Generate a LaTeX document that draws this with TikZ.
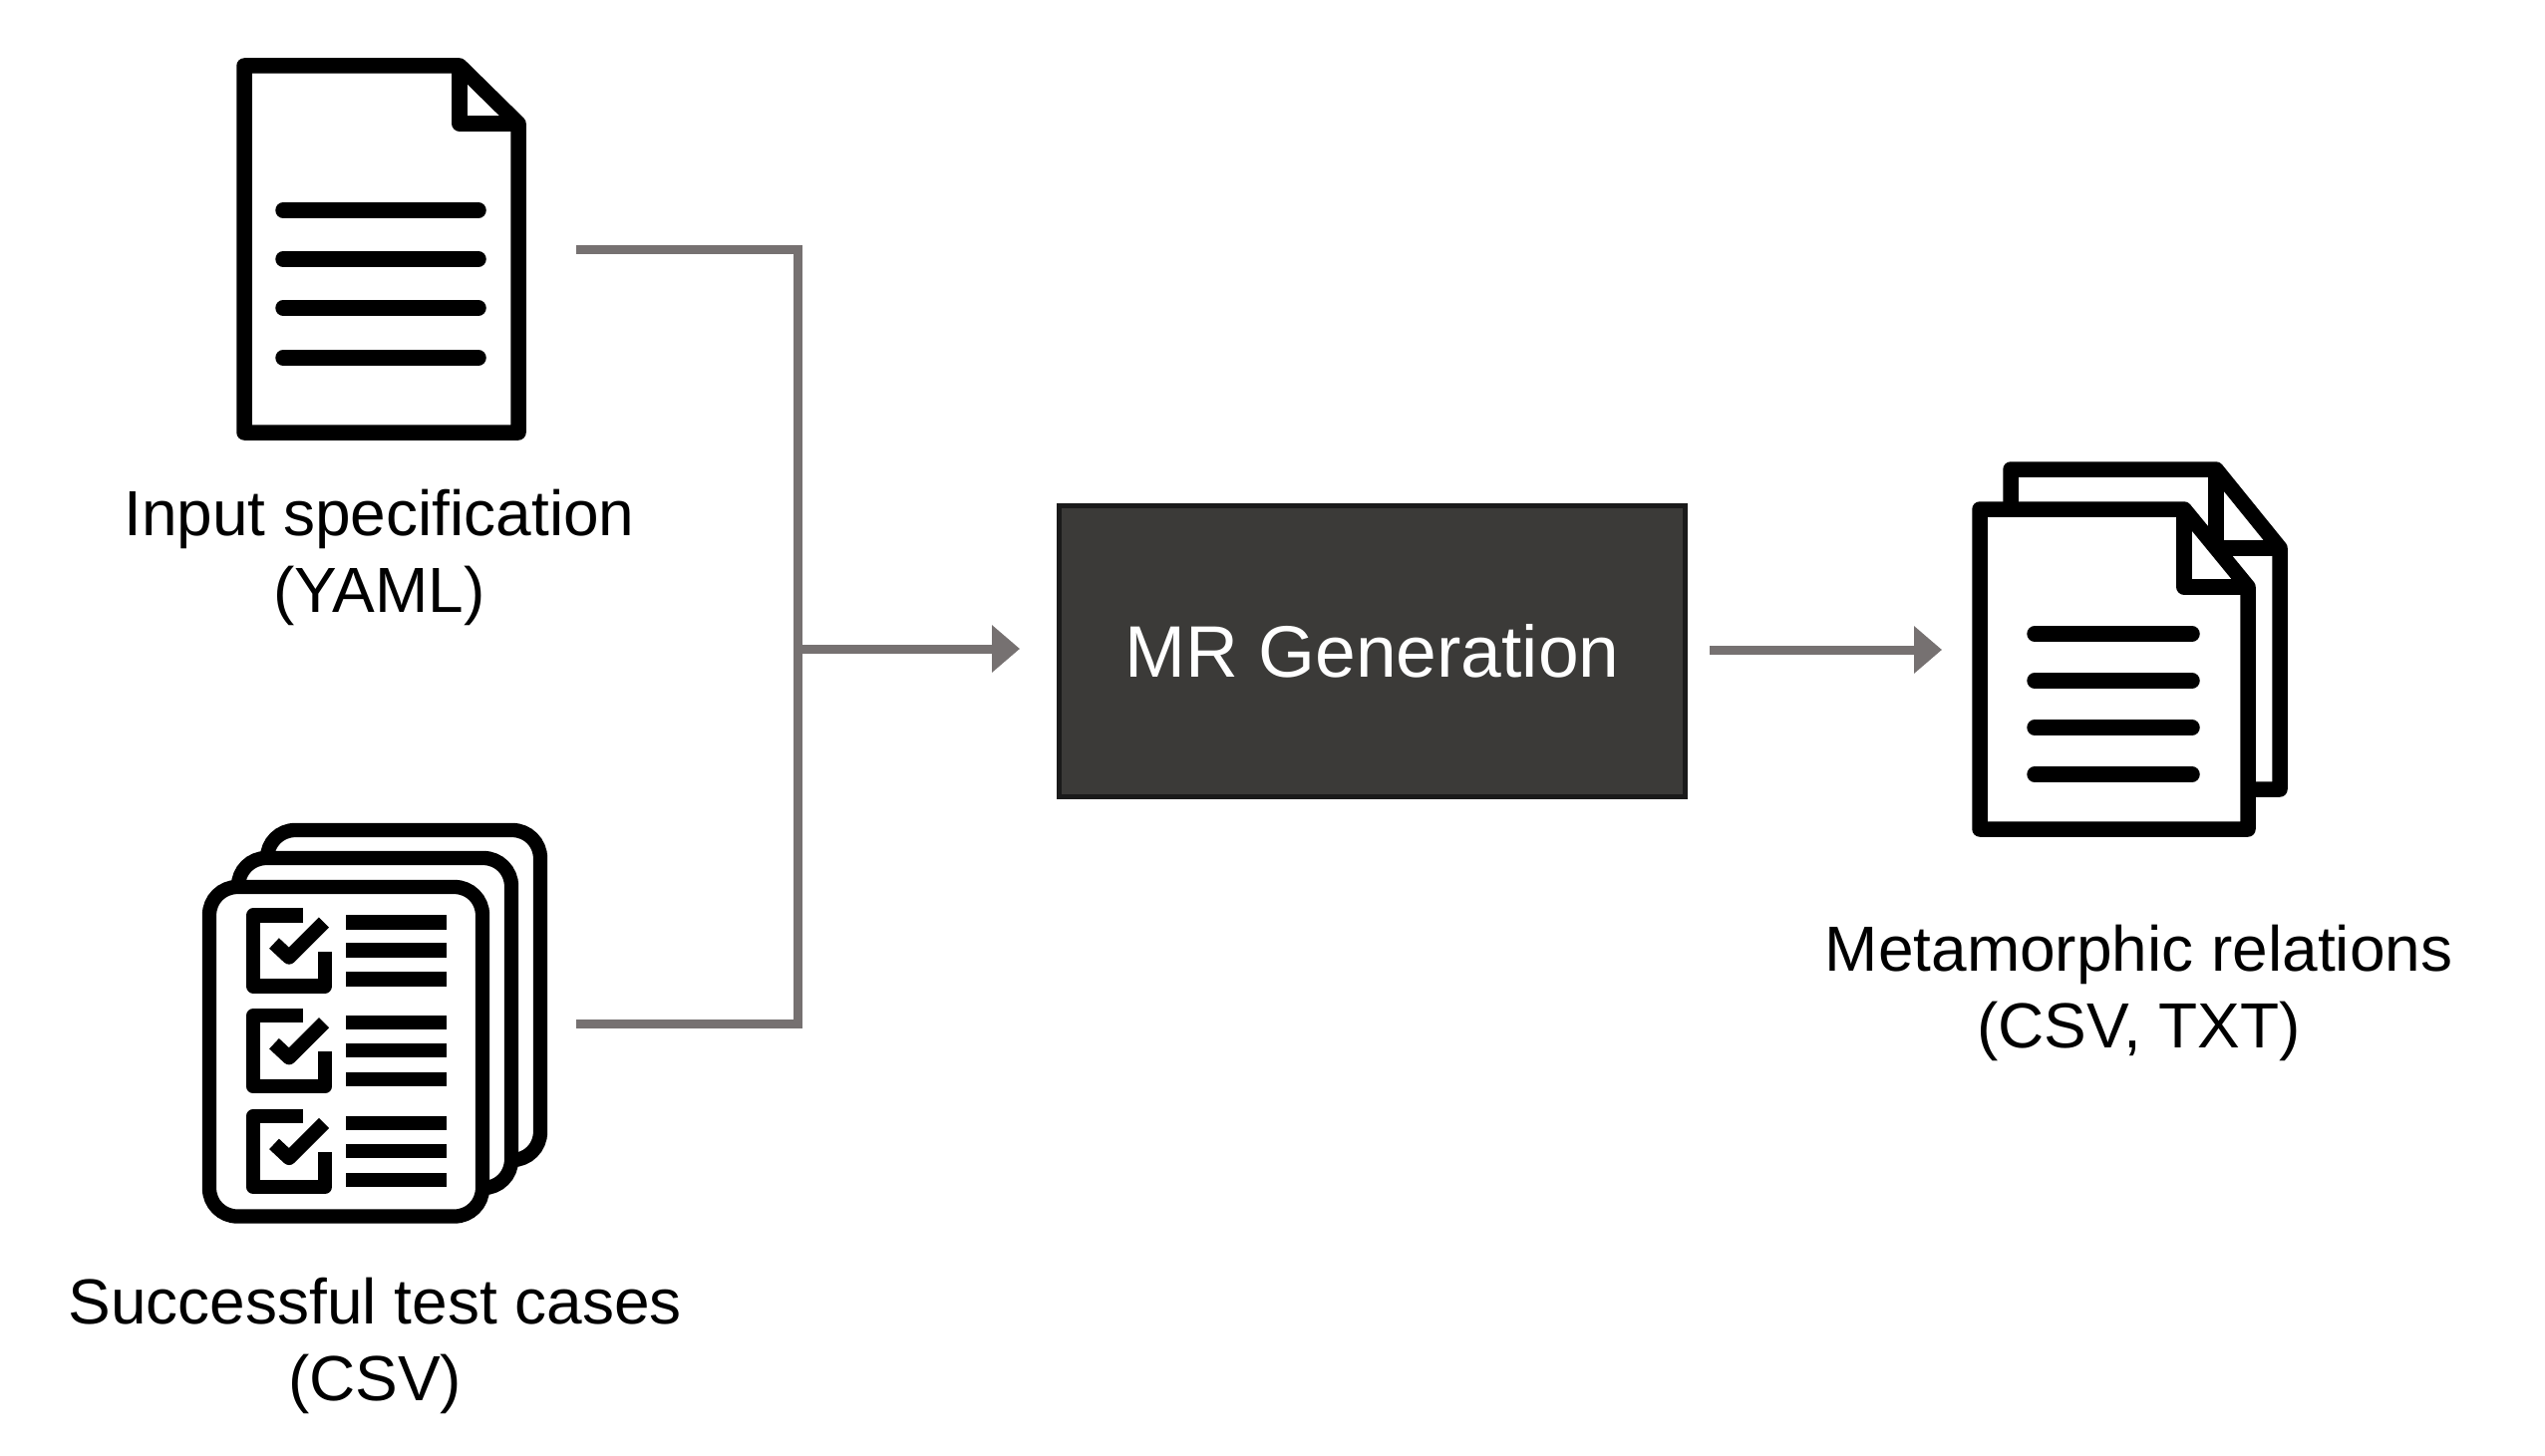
\documentclass[tikz,border=0pt]{standalone}
\usepackage{fontspec}
\setmainfont{Liberation Sans}
\usetikzlibrary{arrows.meta}
\definecolor{conn}{HTML}{767171}
\definecolor{boxfill}{HTML}{3B3A38}
\definecolor{boxline}{HTML}{1A1A1A}
\tikzset{
  x=1pt,y=-1pt,
  icon/.style={draw=black,line width=15.5pt,line join=round,fill=white},
  fold/.style={draw=black,line width=15.5pt,line join=round},
  textline/.style={draw=black,line width=15.5pt,line cap=round},
  sheet/.style={draw=black,line width=14.3pt,fill=white,rounded corners=28pt},
  listline/.style={draw=black,line width=14.3pt},
  tick/.style={draw=black,line width=14.3pt,line join=round},
  conn/.style={draw=conn,line width=9pt},
  connarrow/.style={conn,-{Triangle[length=28pt,width=46pt]}},
  lab/.style={align=center,font=\fontsize{64}{77}\selectfont,inner sep=0pt,text=black},
  procbox/.style={draw=boxline,fill=boxfill,line width=5pt,minimum width=628pt,minimum height=292pt,inner sep=0pt,text=white,font=\fontsize{73.2}{86}\selectfont},
}
\begin{document}
\begin{tikzpicture}
\useasboundingbox (0,0) rectangle (2553,1461);
% input specification icon
\draw[icon] (245,66) -- (461,66) -- (520,124) -- (520,434) -- (245,434) -- cycle;
\draw[fold] (461,66) -- (461,124) -- (520,124);
\foreach \yy in {211,260,309,359} \draw[textline] (284,\yy) -- (480,\yy);
% test cases icon
\draw[sheet] (268,833) rectangle (542,1164);
\draw[sheet] (239,861) rectangle (513,1192);
\draw[sheet] (210,890) rectangle (484,1220.5);
\foreach \dd in {-1.5,99.2,199.9} {
  \begin{scope}[yshift=-\dd pt]
    \draw[tick] (304,920) -- (254,920) -- (254,991) -- (326,991) -- (326,956);
    \draw[tick] (275,948) -- (290,962) -- (325,927);
    \draw[listline] (347,927) -- (448,927);
    \draw[listline] (347,955) -- (448,955);
    \draw[listline] (347,984) -- (448,984);
  \end{scope}
}
% metamorphic relations icon
\draw[icon] (2017,471) -- (2223,471) -- (2287,550) -- (2287,792) -- (2017,792) -- cycle;
\draw[fold] (2223,471) -- (2223,550) -- (2287,550);
\draw[icon] (1986,511) -- (2191,511) -- (2255,589) -- (2255,832) -- (1986,832) -- cycle;
\draw[fold] (2191,511) -- (2191,589) -- (2255,589);
\foreach \yy in {636,683,730,777} \draw[textline] (2041,\yy) -- (2199,\yy);
% labels
\node[lab] (inputlab) at (380.4,559) {Input specification\\(YAML)};
\node[lab] (testlab) at (376.2,1350) {Successful test cases\\(CSV)};
\node[lab] (mrlab) at (2145.6,996) {Metamorphic relations\\(CSV, TXT)};
\node[procbox] (gen) at (1376.5,653) {MR Generation};
% connectors
\coordinate (inA) at (578,250);
\coordinate (inB) at (578,1027);
\coordinate (joinT) at (800.5,250);
\coordinate (joinB) at (800.5,1027);
\coordinate (joinM) at (800.5,651);
\coordinate (preGen) at (1023,651);
\coordinate (postGen) at (1715,652);
\coordinate (outEnd) at (1948,652);
\draw[conn,line join=miter] (inA) -- (joinT) -- (joinB) -- (inB);
\draw[connarrow] (joinM) -- (preGen);
\draw[connarrow] (postGen) -- (outEnd);
\end{tikzpicture}
\end{document}
